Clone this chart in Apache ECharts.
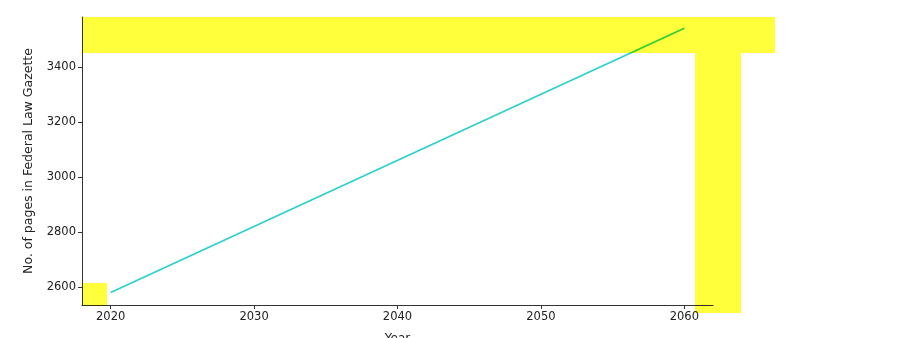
<!DOCTYPE html>
<html>
<head>
<meta charset="utf-8">
<script src="https://cdn.jsdelivr.net/npm/echarts@6/dist/echarts.min.js"></script>
<style>
html,body{margin:0;padding:0;background:#fff;}
#chart{width:907px;height:338px;}
</style>
</head>
<body>
<div id="chart"></div>
<script>
// Data
const years = [2020, 2060];
const pages = [2580, 3541];
const xTicks = [2020, 2030, 2040, 2050, 2060];
const yTicks = [2600, 2800, 3000, 3200, 3400];

const chart = echarts.init(document.getElementById('chart'), null, {renderer: 'canvas'});
const font = 'DejaVu Sans';
const axisColor = '#333';
const option = {
  animation: false,
  backgroundColor: '#fff',
  grid: {left: 82, right: 194, top: 17, bottom: 33, containLabel: false, outerBoundsMode: 'none'},
  xAxis: {
    type: 'value', min: 2018, max: 2062,
    name: 'Year', nameLocation: 'middle', nameGap: 28,
    nameTextStyle: {fontFamily: font, fontSize: 12, color: '#222'},
    axisLine: {show: true, onZero: false, lineStyle: {color: axisColor, width: 1}},
    axisTick: {show: true, length: 4, customValues: xTicks, lineStyle: {color: axisColor}},
    axisLabel: {customValues: xTicks, formatter: v => String(v), fontFamily: font, fontSize: 11.5, color: '#222', margin: 6},
    splitLine: {show: false}
  },
  yAxis: {
    type: 'value', min: 2534.5, max: 3581.8,
    name: 'No. of pages in Federal Law Gazette', nameLocation: 'middle', nameGap: 47,
    nameTextStyle: {fontFamily: font, fontSize: 12.5, color: '#222'},
    axisLine: {show: true, onZero: false, lineStyle: {color: axisColor, width: 1}},
    axisTick: {show: true, length: 4, customValues: yTicks, lineStyle: {color: axisColor}},
    axisLabel: {customValues: yTicks, formatter: v => String(v), fontFamily: font, fontSize: 11.5, color: '#222', margin: 6},
    splitLine: {show: false}
  },
  series: [{
    type: 'line',
    data: years.map((y, i) => [y, pages[i]]),
    showSymbol: false,
    lineStyle: {color: '#2ecfcf', width: 1.8},
    z: 2
  }],
  graphic: [
    {type: 'rect', z: 100, shape: {x: 82, y: 17, width: 693, height: 36}, style: {fill: '#ffff3c', blend: 'multiply'}},
    {type: 'rect', z: 100, shape: {x: 695, y: 53, width: 46, height: 260}, style: {fill: '#ffff3c', blend: 'multiply'}},
    {type: 'rect', z: 100, shape: {x: 82, y: 283, width: 25, height: 23}, style: {fill: '#ffff3c', blend: 'multiply'}}
  ]
};
chart.setOption(option);
</script>
</body>
</html>
